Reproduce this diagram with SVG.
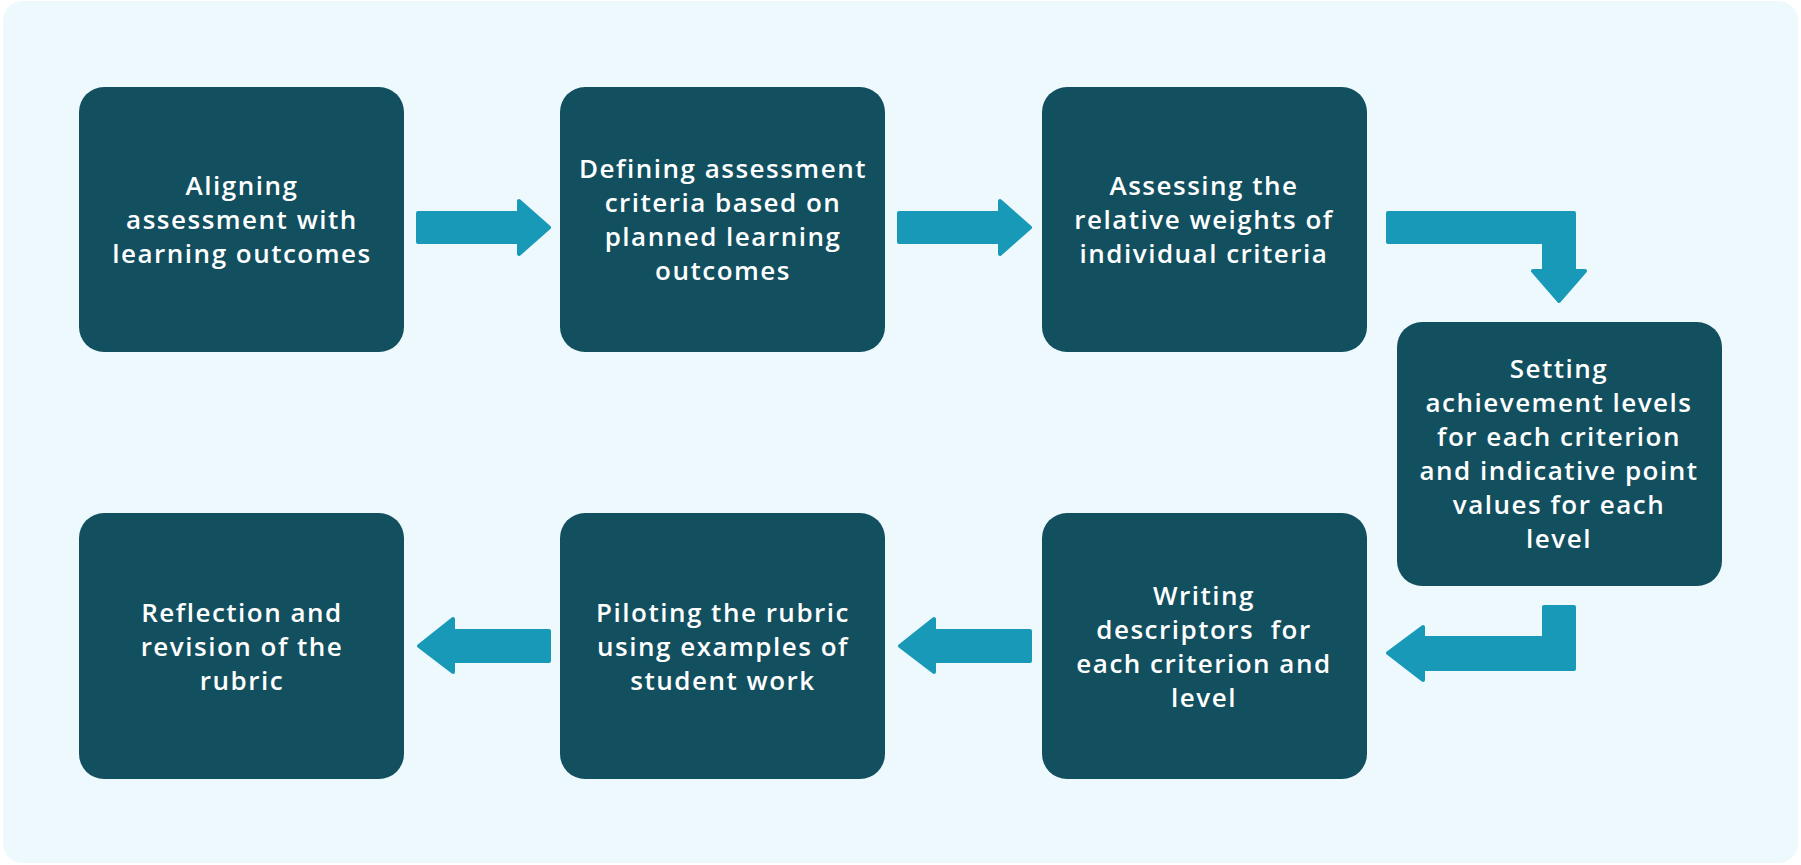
<svg xmlns="http://www.w3.org/2000/svg" width="1801" height="865" viewBox="0 0 1801 865">
<style>
.node rect{fill:#12505F}
.node text{fill:#FFFFFF;font-family:"Open Sans","Lato",sans-serif;font-weight:600;font-size:26px;text-anchor:middle;letter-spacing:1.5px}
.arrow{fill:#1899B8;stroke:#1899B8;stroke-width:4;stroke-linejoin:round}
</style>
<rect x="0" y="0" width="1801" height="865" fill="#FFFFFF"/>
<rect x="3" y="1" width="1795" height="862" rx="20" fill="#EEF9FE"/>
<g id="connectors">
<path class="arrow" d="M418,213 H519 V201 L549,227.5 L519,254 V242 H418 Z"/>
<path class="arrow" d="M899,213 H1000 V201 L1030,227.5 L1000,254 V242 H899 Z"/>
<path class="arrow" d="M1388,213 H1574 V271 H1585 L1559,301 L1533,271 H1544 V242 H1388 Z"/>
<path class="arrow" d="M1574,607 V669 H1423 V680 L1388,653 L1423,627 V638 H1544 V607 Z"/>
<path class="arrow" d="M1030,631 V661 H934 V672 L900,646 L934,619 V631 Z"/>
<path class="arrow" d="M549,631 V661 H453 V672 L419,646 L453,619 V631 Z"/>
</g>
<g id="node1" class="node">
<rect x="79" y="87" width="325" height="265" rx="25"/>
<text x="242" y="195">Aligning</text>
<text x="242" y="229">assessment with</text>
<text x="242" y="263">learning outcomes</text>
</g>
<g id="node2" class="node">
<rect x="560" y="87" width="325" height="265" rx="25"/>
<text x="723" y="178">Defining assessment</text>
<text x="723" y="212">criteria based on</text>
<text x="723" y="246">planned learning</text>
<text x="723" y="280">outcomes</text>
</g>
<g id="node3" class="node">
<rect x="1042" y="87" width="325" height="265" rx="25"/>
<text x="1204" y="195">Assessing the</text>
<text x="1204" y="229">relative weights of</text>
<text x="1204" y="263">individual criteria</text>
</g>
<g id="node4" class="node">
<rect x="1397" y="322" width="325" height="264" rx="25"/>
<text x="1559" y="378">Setting</text>
<text x="1559" y="412">achievement levels</text>
<text x="1559" y="446">for each criterion</text>
<text x="1559" y="480">and indicative point</text>
<text x="1559" y="514">values for each</text>
<text x="1559" y="548">level</text>
</g>
<g id="node5" class="node">
<rect x="1042" y="513" width="325" height="266" rx="25"/>
<text x="1204" y="605">Writing</text>
<text x="1204" y="639" style="white-space:pre">descriptors  for</text>
<text x="1204" y="673">each criterion and</text>
<text x="1204" y="707">level</text>
</g>
<g id="node6" class="node">
<rect x="560" y="513" width="325" height="266" rx="25"/>
<text x="723" y="622">Piloting the rubric</text>
<text x="723" y="656">using examples of</text>
<text x="723" y="690">student work</text>
</g>
<g id="node7" class="node">
<rect x="79" y="513" width="325" height="266" rx="25"/>
<text x="242" y="622">Reflection and</text>
<text x="242" y="656">revision of the</text>
<text x="242" y="690">rubric</text>
</g>
</svg>
